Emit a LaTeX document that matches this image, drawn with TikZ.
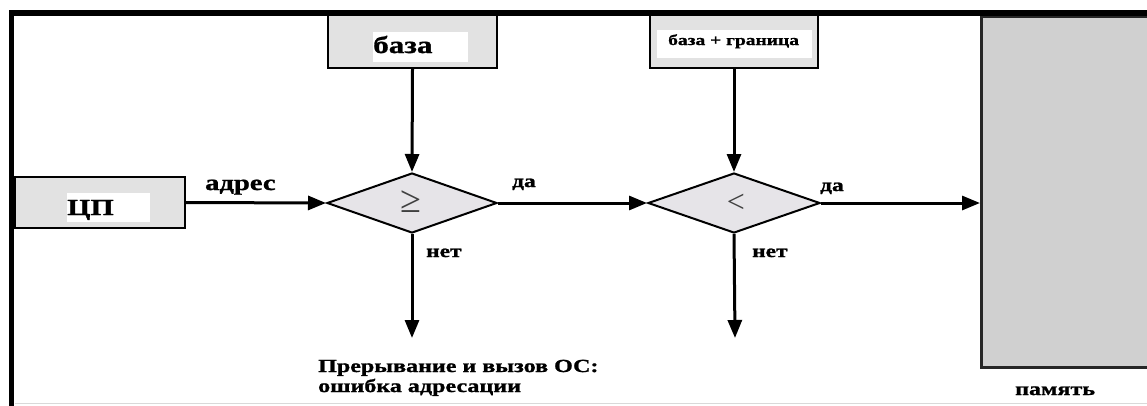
\documentclass[tikz,border=0pt]{standalone}
\usepackage{fontspec}
\setmainfont{Liberation Serif}
\newfontfamily\lab{Liberation Serif}[FakeStretch=1.3, BoldFeatures={FakeBold=1.2}]
\usetikzlibrary{shapes.geometric,arrows.meta}
\definecolor{boxgray}{HTML}{E2E2E2}
\definecolor{diagray}{HTML}{E6E4E8}
\definecolor{memgray}{HTML}{D0D0D0}
\tikzset{
  regbox/.style={draw=black, line width=2pt, fill=boxgray, inner sep=0pt},
  test/.style={diamond, draw=black, line width=2pt, fill=diagray, inner sep=0pt},
  flow/.style={line width=3pt, -{Triangle[length=18pt,width=14pt]}},
  lbl/.style={inner sep=0pt, font=\lab\bfseries},
  sym/.style={inner sep=0pt, text=black!75}
}
\begin{document}
\begin{tikzpicture}[x=1pt,y=-1pt]
\useasboundingbox (0,0) rectangle (1147,405);
\clip (0,0) rectangle (1147,405);

% memory block on the right, partly outside the frame
\node[draw=black!85, line width=2.8pt, fill=memgray, minimum width=200pt, minimum height=351pt, anchor=north west, inner sep=0pt] (mem) at (980,15) {};

% outer frame
\draw[line width=5.5pt] (11.5,410) -- (11.5,13) -- (1160,13);
\draw[black!15, line width=1.5pt] (15,403.5) -- (1160,403.5);

% processor
\node[regbox, minimum width=170pt, minimum height=51pt] (cpu) at (100,202.5) {};
\fill[white] (67,193) rectangle (150,222);
\node[lbl, anchor=base west, font=\lab\bfseries\fontsize{23}{23}\selectfont] (cputxt) at (67,215) {ЦП};

% base register
\node[regbox, minimum width=169pt, minimum height=53pt] (base) at (412.5,41.5) {};
\fill[white] (373,32) rectangle (468,62);
\node[lbl, anchor=base west, font=\lab\bfseries\fontsize{24}{24}\selectfont] (basetxt) at (373,53) {база};

% base + limit register
\node[regbox, minimum width=168pt, minimum height=53pt] (lim) at (734,41.5) {};
\fill[white] (657,30) rectangle (812,58);
\node[lbl, anchor=base west, font=\lab\bfseries\fontsize{15}{15}\selectfont] (limtxt) at (668,45) {база + граница};

% comparators
\node[test, minimum width=170pt, minimum height=60pt, shape aspect=2.83] (d1) at (412,203) {};
\node[sym, font=\fontsize{38}{38}\selectfont] (d1s) at (411,202) {≥};
\node[test, minimum width=172pt, minimum height=60pt, shape aspect=2.87] (d2) at (734,203) {};
\node[sym, font=\fontsize{32}{32}\selectfont] (d2s) at (736,203) {<};

% free ends of the "no" branches
\coordinate (e1) at (412,338);
\coordinate (e2) at (735,338);

% connectors
\draw[flow] (cpu.east) -- (d1.west);
\draw[flow] (base.south) -- (d1.north);
\draw[flow] (d1.east) -- (d2.west);
\draw[flow] (lim.south) -- (d2.north);
\draw[flow] (d2.east) -- (d2.east -| mem.west);
\draw[flow] (d1.south) -- (e1);
\draw[flow] (d2.south) -- (e2);

% labels
\node[lbl, anchor=base west, font=\lab\bfseries\fontsize{22}{22}\selectfont] (addr) at (205,190) {адрес};
\node[lbl, anchor=base west, font=\lab\bfseries\fontsize{18}{18}\selectfont] (yes1) at (512,187) {да};
\node[lbl, anchor=base west, font=\lab\bfseries\fontsize{18}{18}\selectfont] (yes2) at (820,191) {да};
\node[lbl, anchor=base west, font=\lab\bfseries\fontsize{18}{18}\selectfont] (no1) at (426,257) {нет};
\node[lbl, anchor=base west, font=\lab\bfseries\fontsize{18}{18}\selectfont] (no2) at (752,257) {нет};
\node[lbl, anchor=base west, font=\lab\bfseries\fontsize{18.5}{18.5}\selectfont] (trap1) at (318,372) {Прерывание и вызов ОС:};
\node[lbl, anchor=base west, font=\lab\bfseries\fontsize{18.5}{18.5}\selectfont] (trap2) at (318,392) {ошибка адресации};
\node[lbl, anchor=base west, font=\lab\bfseries\fontsize{18.5}{18.5}\selectfont] (memtxt) at (1015,395) {память};
\end{tikzpicture}
\end{document}
